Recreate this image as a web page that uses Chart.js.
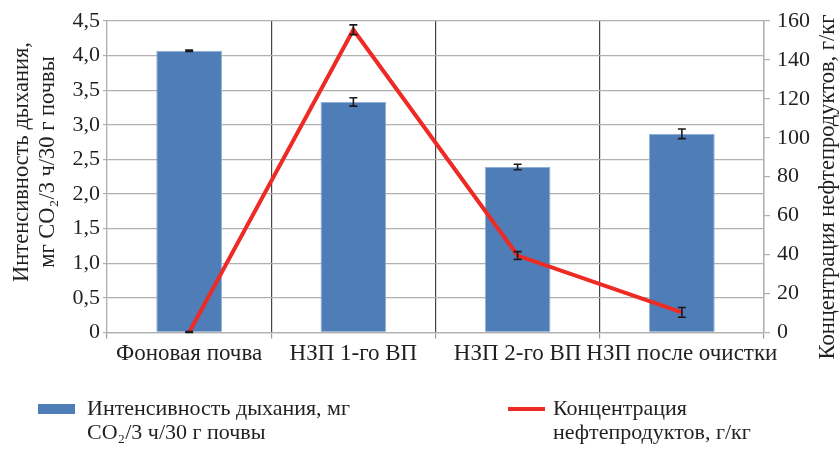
<!DOCTYPE html>
<html>
<head>
<meta charset="utf-8">
<script src="https://cdn.jsdelivr.net/npm/chart.js@4.4.1/dist/chart.umd.min.js"></script>
<style>
  html, body { margin: 0; padding: 0; background: #ffffff; }
  #wrap { width: 840px; height: 451px; position: relative; }
</style>
</head>
<body>
<div id="wrap"><canvas id="chart" width="840" height="451"></canvas></div>
<script>
// Категории образцов почвы
const categories = ['Фоновая почва', 'НЗП 1-го ВП', 'НЗП 2-го ВП', 'НЗП после очистки'];

// Интенсивность дыхания, мг CO2/3 ч/30 г почвы, и погрешность
const respiration = [4.07, 3.33, 2.39, 2.87];
const respirationErr = [0.01, 0.06, 0.04, 0.07];

// Концентрация нефтепродуктов, г/кг, и погрешность
const oilConc = [0, 155.5, 39.5, 10.3];
const oilConcErr = [0.5, 2.5, 2.0, 2.5];

// Подписи осей и легенды
const leftTitle = ['Интенсивность дыхания,', 'мг CO\u2082/3 ч/30 г почвы'];
const rightTitle = 'Концентрация нефтепродуктов, г/кг';
const legendLabels = [
  ['Интенсивность дыхания, мг', 'CO\u2082/3 ч/30 г почвы'],
  ['Концентрация', 'нефтепродуктов, г/кг']
];

const SERIF = '"Liberation Serif", "Times New Roman", serif';
const TEXT = '#231f20';
const BAR = '#4f7db8';
const RED = '#ee2a24';

// Планки погрешностей для обоих рядов
const errorBars = {
  id: 'errorBars',
  afterDatasetsDraw(chart) {
    const ctx = chart.ctx;
    const sets = [
      { idx: 0, vals: respiration, errs: respirationErr, axis: 'y' },
      { idx: 1, vals: oilConc, errs: oilConcErr, axis: 'y1' }
    ];
    ctx.save();
    ctx.strokeStyle = '#1a1a1a';
    ctx.lineWidth = 1.6;
    sets.forEach(s => {
      const meta = chart.getDatasetMeta(s.idx);
      const sc = chart.scales[s.axis];
      meta.data.forEach((el, i) => {
        const x = el.x;
        const yTop = sc.getPixelForValue(s.vals[i] + s.errs[i]);
        const yBot = sc.getPixelForValue(Math.max(0, s.vals[i] - s.errs[i]));
        ctx.beginPath();
        ctx.moveTo(x, yTop); ctx.lineTo(x, yBot);
        ctx.moveTo(x - 4, yTop); ctx.lineTo(x + 4, yTop);
        ctx.moveTo(x - 4, yBot); ctx.lineTo(x + 4, yBot);
        ctx.stroke();
      });
    });
    ctx.restore();
  }
};

// Заголовки осей, повёрнутые снизу вверх
const axisTitles = {
  id: 'axisTitles',
  afterDraw(chart) {
    const ctx = chart.ctx;
    const cy = 162;
    ctx.save();
    ctx.fillStyle = TEXT;
    ctx.textAlign = 'center';
    ctx.textBaseline = 'middle';
    ctx.font = '22.5px ' + SERIF;
    [[22, leftTitle[0]], [48, leftTitle[1]]].forEach(([x, t]) => {
      ctx.save();
      ctx.translate(x, cy);
      ctx.rotate(-Math.PI / 2);
      ctx.fillText(t, 0, 0);
      ctx.restore();
    });
    ctx.save();
    ctx.translate(828, 187);
    ctx.rotate(-Math.PI / 2);
    ctx.fillText(rightTitle, 0, 0);
    ctx.restore();
    ctx.restore();
  }
};

// Легенда в две строки под графиком
const bottomLegend = {
  id: 'bottomLegend',
  afterDraw(chart) {
    const ctx = chart.ctx;
    ctx.save();
    ctx.font = '22px ' + SERIF;
    ctx.textBaseline = 'middle';
    ctx.textAlign = 'left';
    ctx.fillStyle = BAR;
    ctx.fillRect(38, 404, 37, 10);
    ctx.fillStyle = TEXT;
    ctx.fillText(legendLabels[0][0], 87, 409);
    ctx.fillText(legendLabels[0][1], 87, 433);
    ctx.strokeStyle = RED;
    ctx.lineWidth = 4;
    ctx.beginPath();
    ctx.moveTo(508, 409); ctx.lineTo(545, 409);
    ctx.stroke();
    ctx.fillText(legendLabels[1][0], 553, 409);
    ctx.fillText(legendLabels[1][1], 553, 433);
    ctx.restore();
  }
};

const nCat = categories.length;

new Chart(document.getElementById('chart'), {
  data: {
    labels: categories,
    datasets: [
      {
        type: 'line',
        label: 'Концентрация нефтепродуктов, г/кг',
        data: oilConc,
        yAxisID: 'y1',
        borderColor: RED,
        borderWidth: 4,
        pointRadius: 0,
        tension: 0,
        order: 0
      },
      {
        type: 'bar',
        label: 'Интенсивность дыхания, мг CO2/3 ч/30 г почвы',
        data: respiration,
        yAxisID: 'y',
        backgroundColor: BAR,
        borderColor: '#8fb0d8',
        borderWidth: 1,
        barPercentage: 0.4,
        categoryPercentage: 1.0,
        order: 1
      }
    ]
  },
  options: {
    responsive: false,
    animation: false,
    layout: { padding: { top: 21, bottom: 81, left: 0, right: 0 } },
    plugins: {
      legend: { display: false },
      tooltip: { enabled: false }
    },
    scales: {
      x: {
        offset: true,
        grid: {
          offset: true,
          color: ctx => (ctx.index === 0 || ctx.index === nCat) ? '#b0b0b0' : '#444444',
          lineWidth: 1.2,
          drawTicks: true,
          tickLength: 6,
          tickColor: '#9a9a9a'
        },
        border: { display: true, color: '#b0b0b0', width: 1.2 },
        ticks: {
          color: TEXT,
          font: { family: SERIF, size: 23 },
          padding: 2,
          maxRotation: 0,
          autoSkip: false
        }
      },
      y: {
        position: 'left',
        min: 0,
        max: 4.5,
        ticks: {
          stepSize: 0.5,
          color: TEXT,
          font: { family: SERIF, size: 22 },
          padding: 3,
          callback: v => v === 0 ? '0' : v.toFixed(1).replace('.', ',')
        },
        grid: { color: '#b0b0b0', lineWidth: 1.2, tickLength: 4 },
        border: { color: '#b0b0b0', width: 1.2 },
        afterFit: s => { s.width = 107; }
      },
      y1: {
        position: 'right',
        min: 0,
        max: 160,
        ticks: {
          stepSize: 20,
          color: TEXT,
          font: { family: SERIF, size: 22 },
          padding: 7
        },
        grid: { drawOnChartArea: false, color: '#b0b0b0', lineWidth: 1.2, tickLength: 6 },
        border: { color: '#b0b0b0', width: 1.2 },
        afterFit: s => { s.width = 76; }
      }
    }
  },
  plugins: [errorBars, axisTitles, bottomLegend]
});
</script>
</body>
</html>
